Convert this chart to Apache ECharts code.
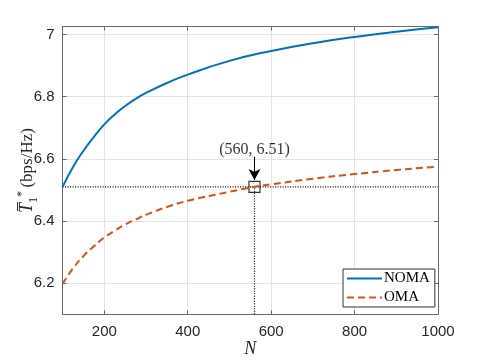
<!DOCTYPE html>
<html>
<head>
<meta charset="utf-8">
<script src="https://cdn.jsdelivr.net/npm/echarts@6/dist/echarts.min.js"></script>
<style>html,body{margin:0;padding:0;background:#fff}#c{width:485px;height:363px}</style>
</head>
<body>
<div id="c"></div>
<script>
// ---- data ----
const nomaN = [100, 125, 150, 175, 200, 225, 250, 275, 300, 350, 400, 500, 600, 700, 800, 900, 1000];
const nomaT = [6.51, 6.574, 6.626, 6.671, 6.711, 6.743, 6.770, 6.793, 6.812, 6.844, 6.871, 6.915, 6.947, 6.972, 6.992, 7.009, 7.023];
const omaN = [100, 125, 150, 175, 200, 225, 250, 275, 300, 350, 400, 500, 560, 600, 700, 800, 900, 1000];
const omaT = [6.198, 6.248, 6.287, 6.319, 6.347, 6.369, 6.389, 6.405, 6.420, 6.445, 6.465, 6.494, 6.510, 6.518, 6.536, 6.551, 6.564, 6.575];
const xTicks = [200, 400, 600, 800, 1000];
const yTicks = [6.2, 6.4, 6.6, 6.8, 7.0];
const xMin = 100, xMax = 1000;
const yMin = 6.1, yMax = 7.025;
const refPoint = [560, 6.51];
const refLabel = '(560, 6.51)';
const arrowFrom = [560, 6.607];
const arrowTo = [560, 6.532];
const seriesNames = ['NOMA', 'OMA'];

const pair = (xs, ys) => xs.map((x, i) => [x, ys[i]]);

const axisColor = '#6a6a6a';
const textColor = '#262626';
const gridColor = '#e4e4e4';
const sans = 'Liberation Sans';
const serif = 'Liberation Serif';

const chart = echarts.init(document.getElementById('c'));
chart.setOption({
  animation: false,
  grid: { left: 62.6, right: 47, top: 26.7, bottom: 48.7, show: false, containLabel: false, outerBoundsMode: 'none' },
  legend: {
    data: seriesNames,
    orient: 'vertical',
    left: 343, top: 269,
    itemWidth: 35, itemHeight: 12, itemGap: 4,
    padding: [2, 5, 2, 3],
    backgroundColor: '#fff',
    borderColor: '#333', borderWidth: 1, borderRadius: 0,
    itemStyle: { opacity: 0 },
    textStyle: { fontFamily: serif, fontSize: 15, color: '#000', padding: [0, 0, 0, -3] }
  },
  xAxis: [{
    type: 'value', min: xMin, max: xMax, interval: 100,
    name: 'N', nameLocation: 'middle', nameGap: 26, nameMoveOverlap: false,
    nameTextStyle: { fontFamily: serif, fontStyle: 'italic', fontSize: 18, color: textColor },
    axisLine: { show: true, onZero: false, lineStyle: { color: axisColor, width: 1 } },
    axisTick: { show: true, inside: true, length: 4, customValues: xTicks, lineStyle: { color: axisColor } },
    axisLabel: { customValues: xTicks, margin: 10, fontFamily: sans, fontSize: 15, color: textColor,
      formatter: v => String(Math.round(v)) },
    splitLine: { show: true, lineStyle: { color: gridColor, width: 1 } }
  }, {
    type: 'value', min: xMin, max: xMax, position: 'top',
    axisLine: { show: true, onZero: false, lineStyle: { color: axisColor, width: 1 } },
    axisTick: { show: true, inside: true, length: 4, customValues: xTicks, lineStyle: { color: axisColor } },
    axisLabel: { show: false }, splitLine: { show: false }
  }],
  yAxis: [{
    type: 'value', min: yMin, max: yMax,
    name: '{t|T\u0305}{sub|1}{sup|*} {n|(bps/Hz)}', nameLocation: 'middle', nameGap: 23, nameRotate: 90,
    nameMoveOverlap: false,
    nameTextStyle: {
      color: textColor,
      rich: {
        t: { fontFamily: serif, fontStyle: 'italic', fontSize: 18, color: textColor, lineHeight: 24 },
        sub: { fontFamily: serif, fontSize: 12, color: textColor, verticalAlign: 'bottom', lineHeight: 24 },
        sup: { fontFamily: serif, fontSize: 12, color: textColor, verticalAlign: 'top', lineHeight: 24 },
        n: { fontFamily: serif, fontSize: 17, color: textColor, lineHeight: 24 }
      }
    },
    axisLine: { show: true, onZero: false, lineStyle: { color: axisColor, width: 1 } },
    axisTick: { show: true, inside: true, length: 4, customValues: yTicks, lineStyle: { color: axisColor } },
    axisLabel: { customValues: yTicks, margin: 8, fontFamily: sans, fontSize: 15, color: textColor,
      formatter: v => (Math.round(v * 10) / 10).toString() },
    splitLine: { show: true, lineStyle: { color: gridColor, width: 1 } }
  }, {
    type: 'value', min: yMin, max: yMax, position: 'right',
    axisLine: { show: true, onZero: false, lineStyle: { color: axisColor, width: 1 } },
    axisTick: { show: true, inside: true, length: 4, customValues: yTicks, lineStyle: { color: axisColor } },
    axisLabel: { show: false }, splitLine: { show: false }
  }],
  series: [
    {
      name: 'hline', type: 'line', silent: true, symbol: 'none', z: 1,
      data: [[xMin, refPoint[1]], [xMax, refPoint[1]]],
      lineStyle: { color: '#000', width: 1.2, type: [1, 1.5] }
    },
    {
      name: 'vline', type: 'line', silent: true, symbol: 'none', z: 1,
      data: [[refPoint[0], yMin], [refPoint[0], refPoint[1]]],
      lineStyle: { color: '#000', width: 1.2, type: [1, 1.5] }
    },
    {
      name: seriesNames[0], type: 'line', symbol: 'none', smooth: 0.5, z: 3,
      data: pair(nomaN, nomaT),
      lineStyle: { color: '#0072BD', width: 2 }, itemStyle: { color: '#0072BD' }
    },
    {
      name: seriesNames[1], type: 'line', symbol: 'none', smooth: 0.5, z: 3,
      data: pair(omaN, omaT),
      lineStyle: { color: '#D95319', width: 2, type: [7, 4] }, itemStyle: { color: '#D95319' }
    },
    {
      name: 'ref', type: 'scatter', z: 5, silent: true,
      data: [refPoint],
      symbol: 'rect', symbolSize: 11,
      itemStyle: { color: 'rgba(0,0,0,0)', borderColor: '#000', borderWidth: 1.2 },
      label: { show: true, position: 'top', distance: 23, formatter: refLabel,
        fontFamily: serif, fontSize: 16, color: '#000' },
      markLine: {
        silent: true, symbol: ['none', 'arrow'], symbolSize: [9, 11],
        label: { show: false },
        lineStyle: { color: '#000', width: 1, type: 'solid' },
        data: [[{ coord: arrowFrom }, { coord: arrowTo }]]
      }
    }
  ]
});
</script>
</body>
</html>
